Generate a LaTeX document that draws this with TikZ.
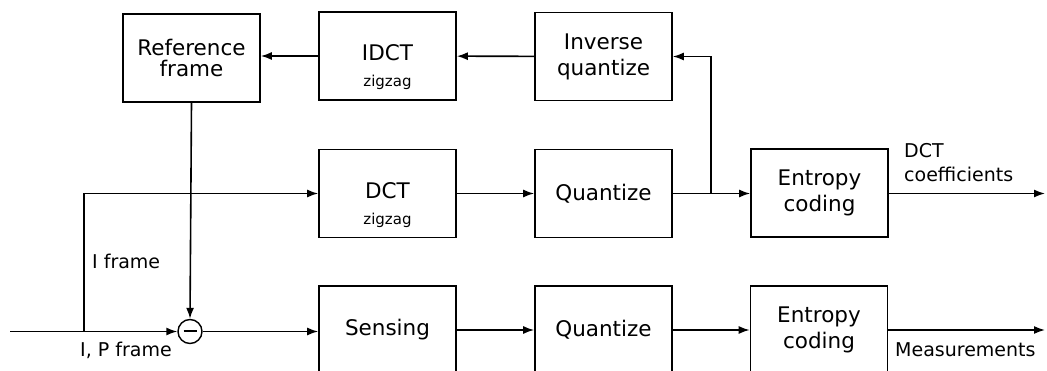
\documentclass[tikz,border=0pt]{standalone}
\usepackage{fontspec}
\setmainfont{DejaVu Sans}
\usetikzlibrary{arrows.meta}

\begin{document}
\begin{tikzpicture}[x=1pt,y=-1pt,
  block/.style={draw,line width=1.6pt,minimum width=137pt,minimum height=88pt,
    align=center,inner sep=0pt,font=\fontsize{21.5}{26}\selectfont},
  tag/.style={font=\fontsize{19}{24}\selectfont,inner sep=0pt,align=left},
  small/.style={font=\fontsize{15}{18}\selectfont,inner sep=0pt},
  flow/.style={line width=1.6pt,-{Latex[length=11pt,width=8pt]}},
  wire/.style={line width=1.6pt}]
\clip (0,0) rectangle (1047,371);
% top row
\node[block,font=\fontsize{21.5}{21}\selectfont] (ref) at (191.5,58) {Reference\\frame};
\node[block] (idct) at (387.5,56) {\raisebox{6pt}{IDCT}};
\node[small] (idctzz) at (387.5,82) {zigzag};
\node[block] (invq) at (603.5,56.5) {Inverse\\quantize};
% middle row
\node[block] (dct) at (387.5,193.5) {\raisebox{6pt}{DCT}};
\node[small] (dctzz) at (387.5,220) {zigzag};
\node[block] (quant) at (603.5,193.5) {Quantize};
\node[block] (entm) at (819.5,193) {Entropy\\coding};
% bottom row
\node[block] (sens) at (387.5,330) {Sensing};
\node[block] (quantb) at (603.5,330) {Quantize};
\node[block] (entb) at (819,330) {Entropy\\coding};
\node[draw,circle,line width=1.4pt,minimum size=24pt,inner sep=0pt] (sub) at (190,331.5) {};
\draw[line width=2pt] ([xshift=-6.5pt]sub.center) -- ([xshift=6.5pt]sub.center);
% points
\coordinate (in) at (10,331.5);
\coordinate (fork) at (84,331.5);
\coordinate (tap) at (711,193.5);
\coordinate (outm) at (1045,193.5);
\coordinate (outb) at (1045,330);
% connectors
\draw[flow] (in) -- (sub);
\draw[flow] (fork) -- (84,193.5) -- (dct.west);
\draw[flow] (ref.south) -- (sub.north);
\draw[flow] (sub) -- (sub -| sens.west);
\draw[flow] (dct) -- (quant);
\draw[flow] (quant) -- (entm.west |- quant);
\draw[flow] (entm.east |- tap) -- (outm);
\draw[flow] (tap) -- (tap |- invq) -- (invq.east);
\draw[flow] (invq) -- (idct);
\draw[flow] (idct.west) -- (ref.east |- idct.west);
\draw[flow] (sens) -- (quantb);
\draw[flow] (quantb) -- (entb);
\draw[flow] (entb) -- (outb);
% labels
\node[tag,anchor=base west] (iframe) at (92,269) {I frame};
\node[tag,anchor=base west] (ipframe) at (80,356) {I, P frame};
\node[tag,anchor=base west] (coef) at (904,182) {DCT\\coefficients};
\node[tag,anchor=base west] (meas) at (895,356) {Measurements};
\end{tikzpicture}
\end{document}
